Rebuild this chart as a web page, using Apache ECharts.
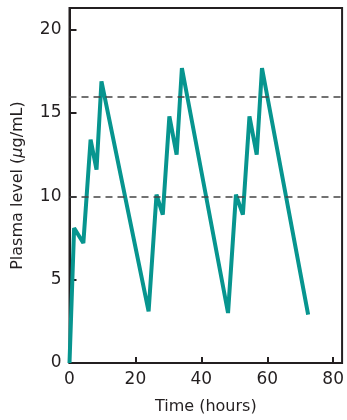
<!DOCTYPE html>
<html>
<head>
<meta charset="utf-8">
<script src="https://cdn.jsdelivr.net/npm/echarts@6/dist/echarts.min.js"></script>
<style>
html,body{margin:0;padding:0;background:#fff;}
#c{width:347px;height:420px;}
</style>
</head>
<body>
<div id="c"></div>
<script>
const timeHours = [0, 1.4, 4.2, 6.4, 8.2, 9.7, 24.0, 26.4, 28.3, 30.3, 32.5, 34.1, 48.1, 50.5, 52.6, 54.6, 56.8, 58.4, 72.4];
const plasmaLevel = [0, 8.1, 7.2, 13.4, 11.6, 16.9, 3.1, 10.1, 8.9, 14.8, 12.5, 17.7, 3.0, 10.1, 8.9, 14.8, 12.5, 17.7, 2.9];
const referenceLevels = [10, 16];
const xTicks = [0, 20, 40, 60, 80];
const yTicks = [0, 5, 10, 15, 20];

const font = 'DejaVu Sans';
const ink = '#231f20';
const chart = echarts.init(document.getElementById('c'));
chart.setOption({
  animation: false,
  grid: {left: 69.5, right: 3, top: 8, bottom: 57, show: true, borderColor: ink, borderWidth: 2, backgroundColor: 'transparent'},
  xAxis: {
    type: 'value', min: 0, max: 82.7, interval: 20,
    name: 'Time (hours)', nameLocation: 'middle', nameGap: 36,
    nameTextStyle: {fontFamily: font, fontSize: 16, color: ink},
    axisLine: {show: true, lineStyle: {color: ink, width: 2}},
    axisTick: {show: true, inside: true, length: 6, lineStyle: {color: ink, width: 2}, customValues: xTicks},
    axisLabel: {fontFamily: font, fontSize: 17, color: ink, margin: 8, customValues: xTicks, formatter: v => String(v)},
    splitLine: {show: false}
  },
  yAxis: {
    type: 'value', min: 0, max: 21.3, interval: 5,
    name: '{n|Plasma level (}{m|μ}{n|g/mL)}', nameLocation: 'middle', nameGap: 44,
    nameTextStyle: {fontFamily: font, fontSize: 16, color: ink,
      rich: {
        n: {fontFamily: font, fontSize: 16, color: ink},
        m: {fontFamily: font, fontSize: 16, color: ink, fontStyle: 'italic'}
      }},
    axisLine: {show: true, lineStyle: {color: ink, width: 2}},
    axisTick: {show: true, inside: true, length: 7, lineStyle: {color: ink, width: 2}, customValues: yTicks},
    axisLabel: {fontFamily: font, fontSize: 17, color: ink, margin: 8, customValues: yTicks, formatter: v => String(v)},
    splitLine: {show: false}
  },
  series: [{
    type: 'line',
    data: timeHours.map((t, i) => [t, plasmaLevel[i]]),
    showSymbol: false,
    symbol: 'none',
    lineStyle: {color: '#07958f', width: 4, join: 'bevel', cap: 'butt'},
    markLine: {
      silent: true, symbol: 'none', label: {show: false},
      lineStyle: {color: '#444', width: 1.5, type: [7, 5]},
      data: referenceLevels.map(v => ({yAxis: v}))
    },
    z: 3
  }]
});
</script>
</body>
</html>
